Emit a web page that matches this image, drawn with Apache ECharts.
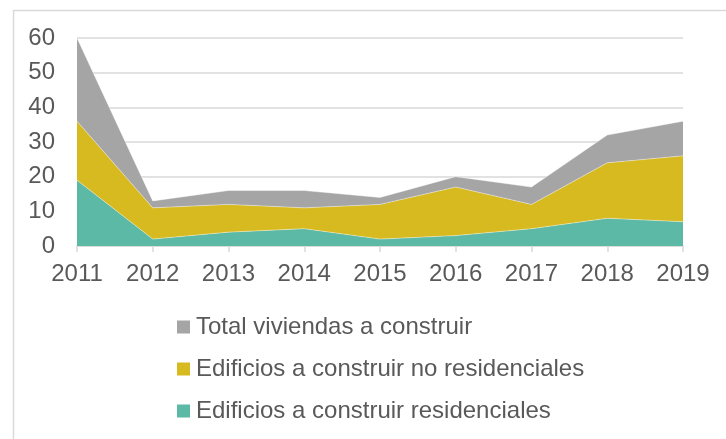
<!DOCTYPE html>
<html>
<head>
<meta charset="utf-8">
<script src="https://cdn.jsdelivr.net/npm/echarts@6/dist/echarts.min.js"></script>
<style>
  html, body { margin: 0; padding: 0; background: #fff; }
  #chart { width: 726px; height: 439px; }
</style>
</head>
<body>
<div id="chart"></div>
<script>
// años
const years = ['2011', '2012', '2013', '2014', '2015', '2016', '2017', '2018', '2019']
// valores apilados (incrementos)
const residenciales = [19, 2, 4, 5, 2, 3, 5, 8, 7]
const noResidenciales = [17, 9, 8, 6, 10, 14, 7, 16, 19]
const totalViviendas = [24, 2, 4, 5, 2, 3, 5, 8, 10]

const textColor = '#595959'
const fontFamily = 'Liberation Sans, Arial, sans-serif'

const myChart = echarts.init(document.getElementById('chart'))

function areaSeries (name, data, color) {
  return {
    name: name,
    type: 'line',
    stack: 'total',
    data: data,
    showSymbol: false,
    lineStyle: { width: 0.8, color: 'rgba(255,255,255,0.5)' },
    itemStyle: { color: color },
    areaStyle: { color: color, opacity: 1 },
    emphasis: { disabled: true }
  }
}

const option = {
  animation: false,
  textStyle: { fontFamily: fontFamily },
  graphic: [{
    type: 'rect',
    left: 11,
    top: 8,
    shape: { width: 760, height: 460 },
    style: { fill: 'none', stroke: '#d9d9d9', lineWidth: 1.5 },
    silent: true
  }],
  grid: {
    left: 77,
    right: 43,
    top: 38,
    bottom: 193
  },
  legend: {
    orient: 'vertical',
    left: 172,
    top: 310,
    itemWidth: 13,
    itemHeight: 13,
    itemGap: 18,
    icon: 'rect',
    data: ['Total viviendas a construir', 'Edificios a construir no residenciales', 'Edificios a construir residenciales'],
    textStyle: { color: textColor, fontSize: 24, fontFamily: fontFamily, padding: [0, 0, 0, 1] }
  },
  xAxis: {
    type: 'category',
    data: years,
    boundaryGap: false,
    axisLine: { lineStyle: { color: '#d9d9d9', width: 1.5 } },
    axisTick: { show: true, length: 6, lineStyle: { color: '#d9d9d9', width: 1.5 } },
    axisLabel: { color: textColor, fontSize: 24, margin: 16 }
  },
  yAxis: {
    type: 'value',
    min: 0,
    max: 60,
    interval: 10,
    axisLine: { show: false },
    axisTick: { show: false },
    splitLine: { lineStyle: { color: '#d9d9d9', width: 1.5 } },
    axisLabel: { color: textColor, fontSize: 24, margin: 22 }
  },
  series: [
    areaSeries('Edificios a construir residenciales', residenciales, '#5cb9a6'),
    areaSeries('Edificios a construir no residenciales', noResidenciales, '#d7b920'),
    areaSeries('Total viviendas a construir', totalViviendas, '#a5a5a5')
  ]
}

myChart.setOption(option)
</script>
</body>
</html>
